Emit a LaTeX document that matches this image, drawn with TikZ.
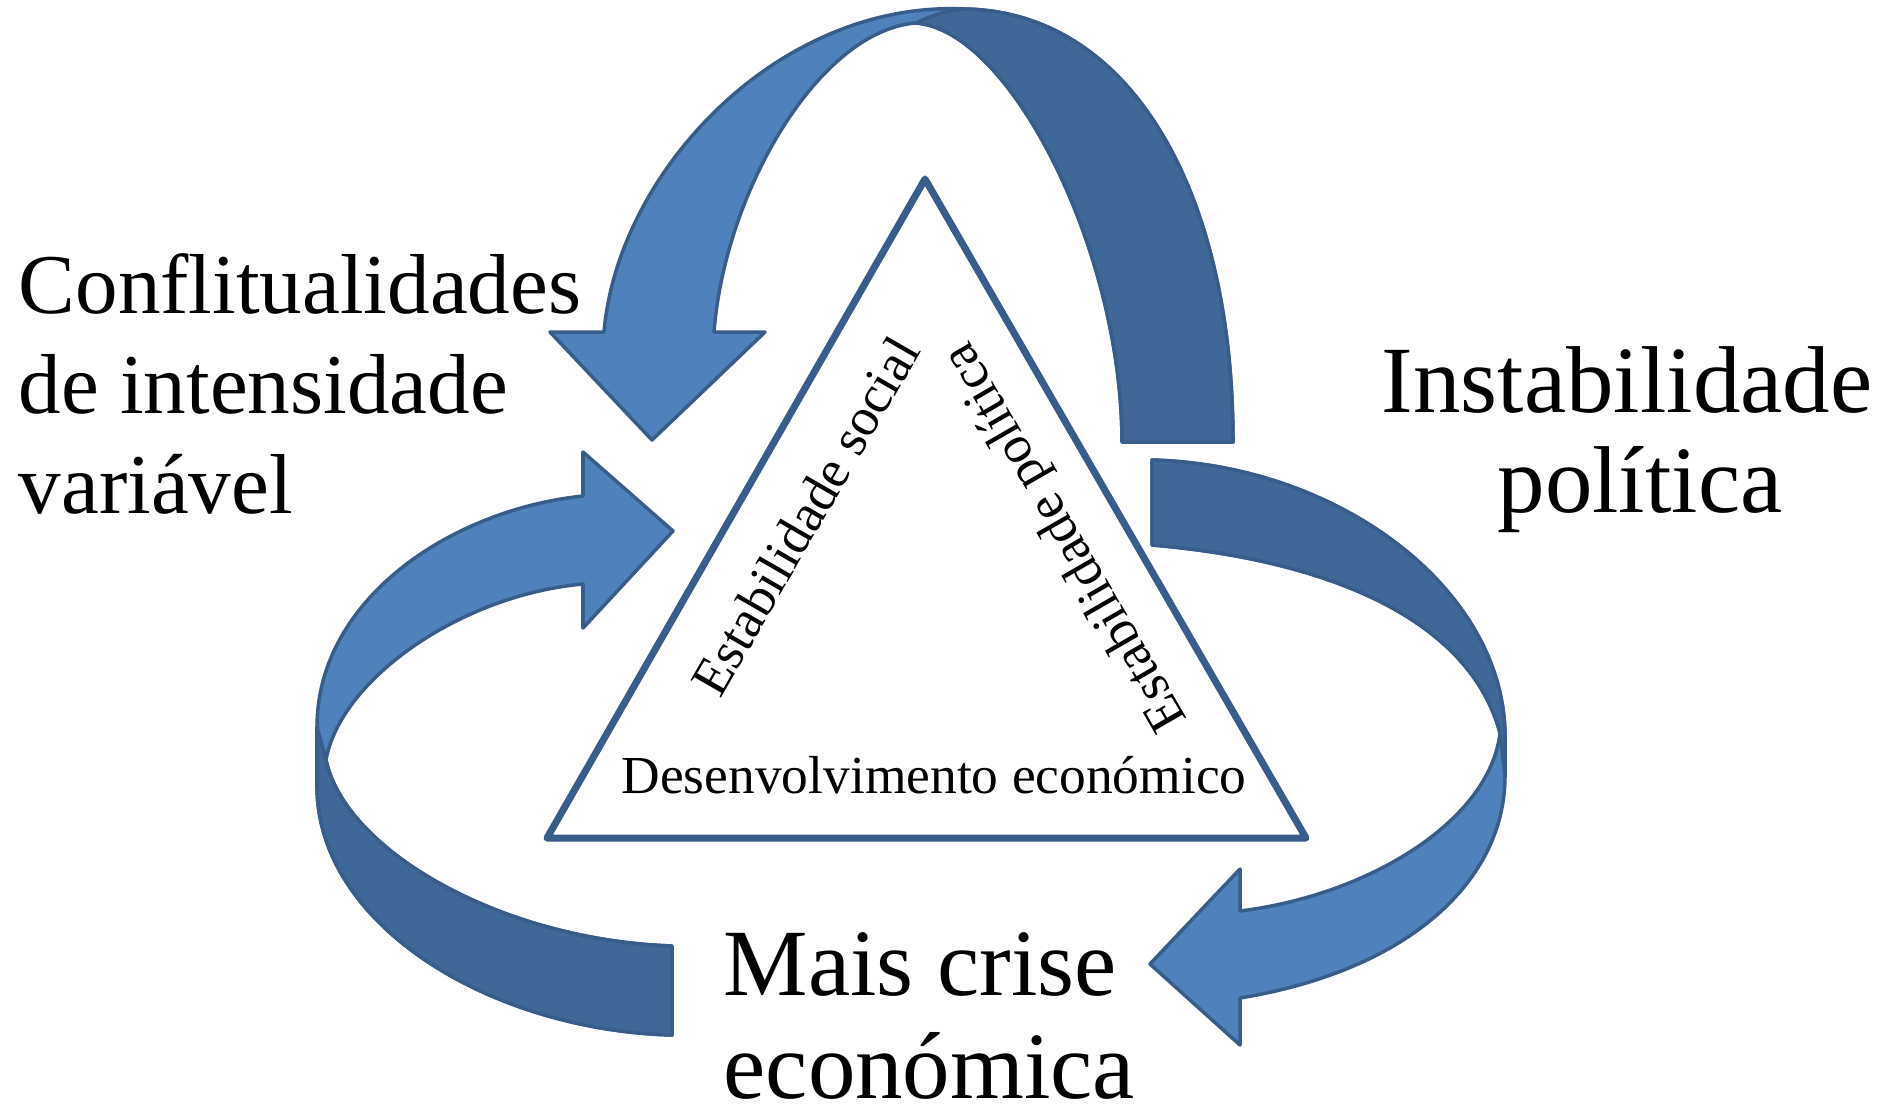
\documentclass[tikz,border=0pt]{standalone}
\usepackage{fontspec}
\setmainfont{Liberation Serif}
\definecolor{bandlight}{RGB}{79,129,189}
\definecolor{banddark}{RGB}{63,103,151}
\definecolor{bandline}{RGB}{56,93,138}
\tikzset{band/.style = {fill=bandlight, draw=bandline, line width=1pt, line join=round},
         backside/.style = {fill=banddark, draw=bandline, line width=1pt, line join=round},
         sidelabel/.style = {inner sep=0, font=\fontsize{24.2pt}{28pt}\selectfont},
         biglabel/.style = {inner sep=0, font=\fontsize{27pt}{32pt}\selectfont},
         innerlabel/.style = {inner sep=0, font=\fontsize{15.2pt}{18pt}\selectfont}}

\begin{document}
\begin{tikzpicture}[x=0.01cm, y=-0.01cm]
    \useasboundingbox (0, 0) rectangle (1899, 1114);

    \coordinate (tritop) at (925, 179);
    \coordinate (tribl) at (547, 838);
    \coordinate (tribr) at (1306, 838);
    \draw [draw=bandline, line width=2pt, line join=round] (tritop) -- (tribl) -- (tribr) -- cycle;

    % top arrow
    \filldraw [band] (604, 332) .. controls (618, 170) and (780, 0) .. (965, 9) .. controls (1130, 12) and (1233, 190) .. (1233, 442) -- (1122, 442) .. controls (1122, 250) and (1010, 30) .. (916, 23) .. controls (820, 30) and (725, 190) .. (714, 332) -- (765, 332) -- (652, 440) -- (550, 332) -- cycle;
    \filldraw [backside] (916, 23) .. controls (935, 14) and (950, 10) .. (965, 9) .. controls (1130, 12) and (1233, 190) .. (1233, 442) -- (1122, 442) .. controls (1122, 250) and (1010, 30) .. (916, 23) -- cycle;

    % left arrow
    \filldraw [band] (672, 1035) -- (672, 946) .. controls (500, 940) and (345, 850) .. (326, 760) .. controls (340, 680) and (460, 595) .. (583, 584) -- (583, 628) -- (673, 531) -- (583, 452) -- (583, 496) .. controls (450, 510) and (317, 600) .. (317, 727) -- (317, 786) .. controls (317, 925) and (490, 1030) .. (672, 1035) -- cycle;
    \filldraw [backside] (317, 727) -- (317, 786) .. controls (317, 925) and (490, 1030) .. (672, 1035) -- (672, 946) .. controls (500, 940) and (345, 850) .. (326, 760) -- cycle;

    % right arrow
    \filldraw [band] (1152, 460) .. controls (1340, 465) and (1505, 590) .. (1505, 737) -- (1505, 776) .. controls (1505, 880) and (1410, 970) .. (1240, 998) -- (1240, 1045) -- (1150, 964) -- (1240, 869) -- (1240, 911) .. controls (1370, 895) and (1490, 820) .. (1500, 733) .. controls (1470, 620) and (1330, 560) .. (1152, 545) -- cycle;
    \filldraw [backside] (1152, 460) .. controls (1340, 465) and (1505, 590) .. (1505, 737) -- (1505, 776) -- (1500, 733) .. controls (1470, 620) and (1330, 560) .. (1152, 545) -- cycle;

    \node [innerlabel, rotate=60] (social) at (805, 516) {Estabilidade social};
    \node [innerlabel, rotate=120] (politica) at (1067, 536) {Estabilidade política};
    \node [innerlabel, anchor=base] (desenv) at (934, 793) {Desenvolvimento económico};

    \node [sidelabel, anchor=base west] (conf) at (18, 313) {Conflitualidades};
    \node [sidelabel, anchor=base west] (inten) at (18, 413) {de intensidade};
    \node [sidelabel, anchor=base west] (varia) at (18, 513) {variável};

    \node [biglabel, anchor=base] (instab) at (1627, 412) {Instabilidade};
    \node [biglabel, anchor=base] (polit) at (1640, 512) {política};

    \node [biglabel, anchor=base west] (mais) at (723, 995) {Mais crise};
    \node [biglabel, anchor=base west] (econ) at (723, 1098) {económica};
\end{tikzpicture}
\end{document}
